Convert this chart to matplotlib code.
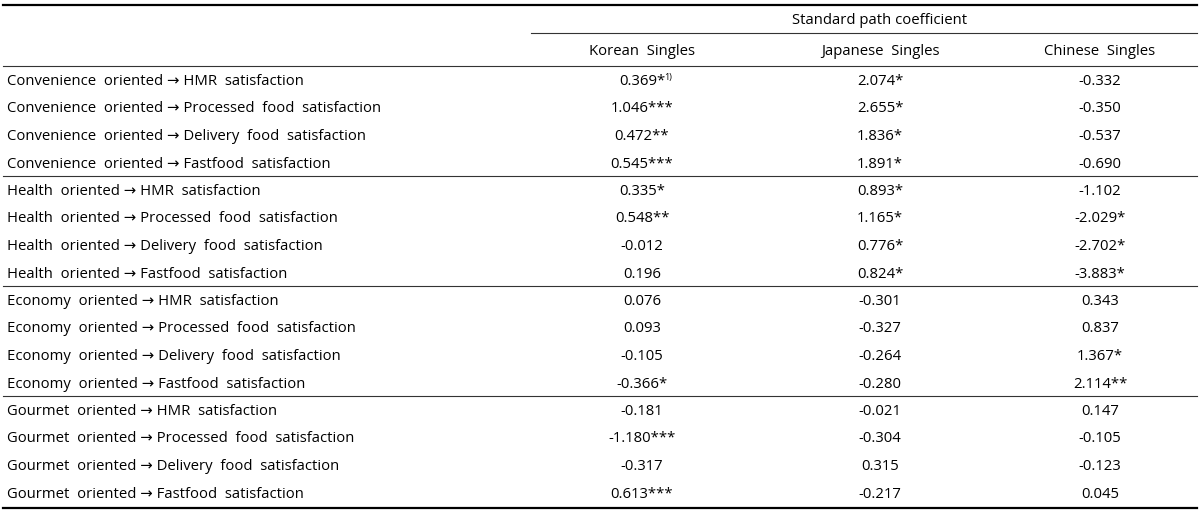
import matplotlib
matplotlib.use("Agg")
import matplotlib.pyplot as plt

plt.rcParams['font.family'] = ['Open Sans', 'Noto Sans', 'DejaVu Sans']

# ===== table data
groups = ["Convenience oriented", "Health oriented", "Economy oriented", "Gourmet oriented"]
outcomes = ["HMR satisfaction", "Processed food satisfaction",
            "Delivery food satisfaction", "Fastfood satisfaction"]
columns = ["Korean Singles", "Japanese Singles", "Chinese Singles"]
header = "Standard path coefficient"

korean = ["0.369*", "1.046***", "0.472**", "0.545***",
          "0.335*", "0.548**", "-0.012", "0.196",
          "0.076", "0.093", "-0.105", "-0.366*",
          "-0.181", "-1.180***", "-0.317", "0.613***"]
japanese = ["2.074*", "2.655*", "1.836*", "1.891*",
            "0.893*", "1.165*", "0.776*", "0.824*",
            "-0.301", "-0.327", "-0.264", "-0.280",
            "-0.021", "-0.304", "0.315", "-0.217"]
chinese = ["-0.332", "-0.350", "-0.537", "-0.690",
           "-1.102", "-2.029*", "-2.702*", "-3.883*",
           "0.343", "0.837", "1.367*", "2.114**",
           "0.147", "-0.105", "-0.123", "0.045"]
footnote_mark = "1)"

# ===== layout (pixel units)
W, H = 1200, 513
col_x = [642, 880, 1100]
row0, row_h = 81.5, 27.5
fs = 10.7

fig = plt.figure(figsize=(W / 100, H / 100), dpi=100)
ax = fig.add_axes([0, 0, 1, 1])
ax.set_xlim(0, W)
ax.set_ylim(H, 0)
ax.axis('off')

# rules
ax.plot([3, 1197], [5, 5], color='black', lw=1.6)
ax.plot([531, 1197], [33, 33], color='#333333', lw=0.8)
ax.plot([3, 1197], [66, 66], color='#333333', lw=0.8)
for g in range(1, len(groups)):
    y = 80 + (4 * g - 0.5) * row_h
    ax.plot([3, 1197], [y, y], color='#333333', lw=0.8)
ax.plot([3, 1197], [508, 508], color='black', lw=1.6)

# header
ax.text(sum(col_x) / 3 + 6, 20.5, header, ha='center', va='center', fontsize=fs)
for x, c in zip(col_x, columns):
    ax.text(x, 51.5, c.replace(" ", "  "), ha='center', va='center', fontsize=fs)

# body
values = [korean, japanese, chinese]
i = 0
for g in groups:
    for o in outcomes:
        y = row0 + i * row_h
        label = g.replace(" ", "  ") + " \u2192 " + o.replace(" ", "  ")
        ax.text(7, y, label, ha='left', va='center', fontsize=fs)
        for x, col in zip(col_x, values):
            t = ax.text(x, y, col[i], ha='center', va='center', fontsize=fs)
            if i == 0 and col is korean:
                ax.annotate(footnote_mark, xy=(0.97, 1.05), xycoords=t,
                            ha='left', va='top', fontsize=6.5)
        i += 1

fig.savefig("out.png", dpi=100)
